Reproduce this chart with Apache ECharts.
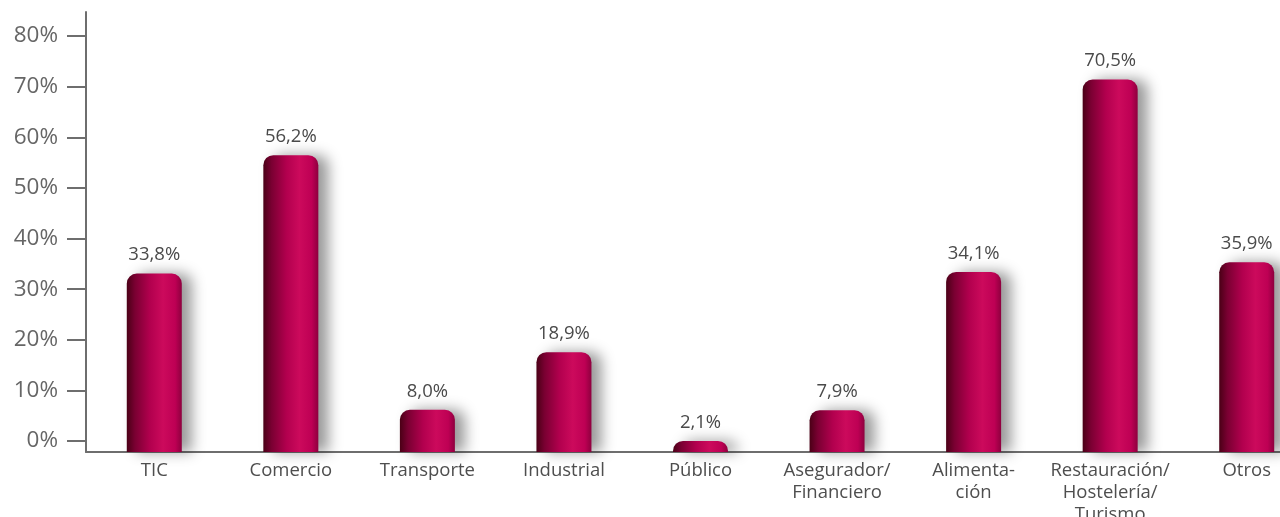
<!DOCTYPE html>
<html><head><meta charset="utf-8">
<script src="https://cdn.jsdelivr.net/npm/echarts@6/dist/echarts.min.js"></script>
<style>html,body{margin:0;padding:0;background:#fff}#c{width:1280px;height:517px}</style>
</head><body><div id="c"></div>
<script>
const categories = ['TIC', 'Comercio', 'Transporte', 'Industrial', 'Público', 'Asegurador/\nFinanciero', 'Alimenta-\nción', 'Restauración/\nHostelería/\nTurismo', 'Otros'];
const values = [33.8, 56.2, 8.0, 18.9, 2.1, 7.9, 34.1, 70.5, 35.9];
const yTicks = [0, 10, 20, 30, 40, 50, 60, 70, 80];

const chart = echarts.init(document.getElementById('c'), null, {renderer: 'canvas'});
const font = '"Open Sans", "Noto Sans", sans-serif';
chart.setOption({
  backgroundColor: '#fff',
  animation: false,
  grid: [
    {left: 86, width: 1229, top: 36, bottom: 76, outerBoundsMode: 'none', containLabel: false},
    {left: 86, width: 1229, top: 12, bottom: 65, outerBoundsMode: 'none', containLabel: false}
  ],
  xAxis: [
    {gridIndex: 0, type: 'category', data: categories, show: false},
    {gridIndex: 1, type: 'category', data: categories,
     axisLine: {lineStyle: {color: '#6e6e6e', width: 2}},
     axisTick: {show: false},
     axisLabel: {color: '#4e4e4e', fontSize: 18.5, fontFamily: font, margin: 8, lineHeight: 22, interval: 0}}
  ],
  yAxis: [
    {gridIndex: 0, type: 'value', min: yTicks[0], max: yTicks[yTicks.length - 1], interval: 10,
     axisLine: {show: false},
     axisTick: {show: true, inside: false, length: 19, lineStyle: {color: '#6e6e6e', width: 2}},
     splitLine: {show: false},
     axisLabel: {color: '#666', fontSize: 22.5, fontFamily: font, margin: 28, formatter: v => v + '%'}},
    {gridIndex: 1, type: 'value', min: 0, max: 83.3,
     axisLine: {show: true, lineStyle: {color: '#6e6e6e', width: 2}},
     axisTick: {show: false}, axisLabel: {show: false}, splitLine: {show: false}}
  ],
  series: [{
    type: 'bar',
    xAxisIndex: 1, yAxisIndex: 1,
    data: values,
    barWidth: 55,
    itemStyle: {
      borderRadius: [10, 10, 0, 0],
      color: new echarts.graphic.LinearGradient(0, 0, 1, 0, [
        {offset: 0, color: '#4a0016'},
        {offset: 0.15, color: '#7a0032'},
        {offset: 0.42, color: '#b2004e'},
        {offset: 0.66, color: '#cc0a5c'},
        {offset: 0.88, color: '#be0054'},
        {offset: 1, color: '#8e003e'}
      ]),
      shadowColor: 'rgba(0,0,0,0.4)',
      shadowBlur: 14,
      shadowOffsetX: 10,
      shadowOffsetY: 0
    },
    label: {
      show: true, position: 'top', distance: 9,
      color: '#4a4a4a', fontSize: 18.5, fontWeight: 500, fontFamily: font,
      formatter: p => p.value.toFixed(1).replace('.', ',') + '%'
    }
  }]
});
</script></body></html>
